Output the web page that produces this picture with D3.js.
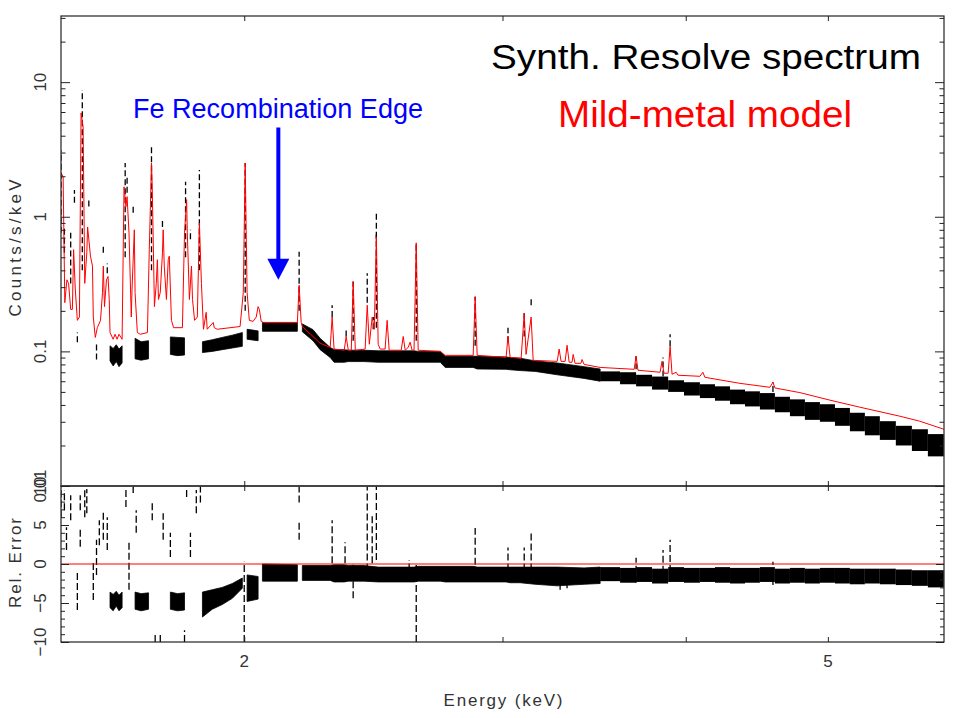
<!DOCTYPE html>
<html lang="en">
<head>
<meta charset="utf-8">
<title>Synth. Resolve spectrum</title>
<script src="https://cdn.jsdelivr.net/npm/d3@7"></script>
<style>
  body { margin: 0; background: #fff; }
  text { font-family: "Liberation Sans", Arial, Helvetica, sans-serif; }
</style>
</head>
<body>
<script>
// ---------- data ----------
// model curve (red), energy in keV and counts/s/keV
var modelE = [1.500,1.505,1.509,1.514,1.518,1.523,1.527,1.530,1.534,1.539,
  1.544,1.548,1.553,1.557,1.562,1.564,1.571,1.576,1.578,1.583,
  1.588,1.596,1.601,1.603,1.606,1.611,1.615,1.618,1.620,1.628,
  1.633,1.638,1.643,1.651,1.656,1.661,1.664,1.669,1.675,1.677,
  1.683,1.685,1.691,1.699,1.718,1.723,1.729,1.731,1.737,1.742,
  1.745,1.748,1.753,1.759,1.761,1.764,1.770,1.775,1.778,1.784,
  1.790,1.815,1.821,1.827,1.829,1.835,1.841,1.844,1.850,1.858,
  1.864,1.870,1.876,1.884,1.887,1.905,1.908,1.917,1.987,1.997,
  2.003,2.009,2.016,2.028,2.038,2.044,2.048,2.054,2.061,2.174,
  2.180,2.187,2.191,2.228,2.253,2.289,2.296,2.303,2.340,2.347,
  2.355,2.366,2.373,2.381,2.418,2.426,2.434,2.445,2.453,2.461,
  2.468,2.476,2.495,2.503,2.511,2.559,2.567,2.575,2.587,2.595,
  2.603,2.611,2.620,2.628,2.721,2.742,2.865,2.874,2.883,3.017,
  3.026,3.036,3.089,3.104,3.113,3.123,3.138,3.148,3.269,3.279,
  3.289,3.310,3.320,3.331,3.346,3.352,3.362,3.393,3.399,3.410,
  3.497,3.689,3.700,3.711,3.842,3.854,3.866,3.891,3.903,3.915,
  3.940,3.952,4.090,4.109,4.122,4.355,4.565,4.587,4.601,4.770,
  4.785,5.017,5.257,5.598,5.776,5.998];
var modelF = [2.12,1.98,0.23,0.34,0.32,0.205,0.205,0.57,0.29,0.17,
  0.18,5.89,4.64,0.32,0.54,0.84,0.51,0.43,0.18,0.127,
  0.150,0.17,0.274,0.43,0.215,0.34,0.36,0.243,0.138,0.123,
  0.134,0.123,0.134,0.123,1.67,1.19,1.41,0.76,0.18,0.29,
  0.80,0.274,0.138,0.134,0.138,0.57,2.51,1.67,0.215,0.32,
  0.48,0.243,0.274,0.54,0.80,0.43,0.243,0.48,0.51,0.17,
  0.150,0.150,0.76,1.34,0.76,0.243,0.43,0.243,0.17,0.18,
  0.90,0.32,0.146,0.195,0.146,0.164,0.150,0.146,0.153,0.274,
  2.51,0.274,0.17,0.167,0.18,0.215,0.205,0.167,0.164,0.164,
  0.31,0.164,0.153,0.129,0.115,0.107,0.18,0.104,0.102,0.129,
  0.102,0.102,0.33,0.102,0.104,0.22,0.113,0.18,0.146,0.71,
  0.113,0.104,0.104,0.17,0.102,0.102,0.129,0.102,0.107,0.117,
  0.102,0.102,0.64,0.102,0.100,0.0934,0.0934,0.255,0.0934,0.0903,
  0.129,0.0903,0.0888,0.192,0.095,0.123,0.18,0.0858,0.0843,0.104,
  0.0843,0.0843,0.111,0.083,0.083,0.095,0.0815,0.0815,0.087,0.080,
  0.076,0.0736,0.092,0.0724,0.070,0.0843,0.0688,0.0688,0.109,0.0676,
  0.070,0.0665,0.0653,0.070,0.0642,0.0579,0.0541,0.059,0.0535,0.0497,
  0.0494,0.0434,0.0385,0.033,0.0303,0.0264];

// data continuum band (finely binned part), null = gap at lines
var bandE = [1.620,1.628,1.636,1.643,1.651,1.66,
  1.685,1.701,1.721,1.75,
  1.781,1.801,1.821,1.85,
  1.873,1.902,1.932,1.963,1.994,2.00,
  2.009,2.044,2.05,
  2.058,2.174,2.18,
  2.191,2.228,2.253,2.289,2.303,2.340,2.355,2.414,2.468,2.611,
  2.628,2.721,2.742,2.865,2.883,3.017,3.036,3.084,3.158,3.269,3.410,3.497];
var bandLo = [0.085,0.078,0.084,0.077,0.082,null,
  0.088,0.086,0.088,null,
  0.095,0.093,0.094,null,
  0.098,0.100,0.103,0.106,0.109,null,
  0.123,0.120,null,
  0.141,0.141,null,
  0.140,0.120,0.103,0.090,0.083,0.083,0.084,0.084,0.083,0.083,
  0.083,0.083,0.076,0.076,0.074,0.0736,0.073,0.072,0.071,0.067,0.063,0.060];
var bandHi = [0.110,0.105,0.112,0.104,0.110,null,
  0.125,0.118,0.120,null,
  0.128,0.127,0.126,null,
  0.118,0.122,0.127,0.132,0.138,null,
  0.146,0.142,null,
  0.164,0.164,null,
  0.160,0.145,0.125,0.107,0.103,0.103,0.102,0.102,0.101,0.101,
  0.100,0.100,0.092,0.092,0.092,0.091,0.090,0.089,0.085,0.082,0.077,0.074];
// residuals (rel. error) on the same energies
var resLo = [-5.6,-6.0,-5.4,-6.0,-5.6,null,
  -5.8,-6.0,-5.8,null,
  -5.8,-6.0,-5.9,null,
  -6.8,-5.8,-5.2,-4.4,-3.1,null,
  -4.8,-4.5,null,
  -2.2,-2.2,null,
  -2.1,-2.1,-2.1,-2.1,-2.3,-2.3,-2.2,-2.2,-2.3,-2.3,
  -2.2,-2.2,-2.3,-2.3,-2.3,-2.3,-2.4,-2.4,-2.6,-2.8,-2.6,-2.5];
var resHi = [-3.6,-3.9,-3.5,-4.0,-3.6,null,
  -3.6,-3.8,-3.7,null,
  -3.6,-3.8,-3.7,null,
  -3.6,-3.3,-3.0,-2.5,-1.8,null,
  -1.4,-1.6,null,
  0.0,-0.1,null,
  -0.2,-0.2,-0.2,-0.2,-0.1,-0.1,-0.2,-0.2,-0.4,-0.4,
  -0.3,-0.3,-0.3,-0.3,-0.4,-0.4,-0.4,-0.4,-0.4,-0.4,-0.5,-0.4];

// grouped bins at high energy
var binEdges = [3.497,3.608,3.700,3.794,3.891,3.989,4.090,4.188,4.288,4.390,4.494,
  4.601,4.711,4.823,4.938,5.056,5.176,5.299,5.425,5.563,5.705,5.850,5.998];
var binLo = [0.060,0.057,0.055,0.052,0.050,0.047,0.045,0.043,0.0405,0.039,0.037,
  0.0353,0.033,0.031,0.030,0.028,0.0255,0.0238,0.022,0.020,0.0182,0.0166];
var binHi = [0.071,0.070,0.067,0.065,0.061,0.059,0.057,0.055,0.052,0.0505,0.049,
  0.046,0.044,0.042,0.0405,0.038,0.035,0.033,0.0303,0.028,0.0264,0.0243];
var resBinLo = [-2.2,-2.4,-2.3,-2.5,-2.3,-2.4,-2.3,-2.4,-2.5,-2.4,-2.3,
  -2.5,-2.4,-2.5,-2.4,-2.5,-2.6,-2.5,-2.6,-2.7,-2.8,-3.0];
var resBinHi = [-0.4,-0.5,-0.4,-0.6,-0.4,-0.5,-0.5,-0.4,-0.5,-0.5,-0.4,
  -0.6,-0.5,-0.6,-0.5,-0.5,-0.6,-0.6,-0.6,-0.7,-0.8,-0.8];

// error bars of the data at the emission lines
var barE  = [1.500,1.508,1.523,1.532,1.539,1.551,1.567,1.586,1.603,1.613,
  1.659,1.664,1.680,1.729,1.759,1.824,1.838,1.864,2.180,2.296,
  2.347,2.426,2.449,2.461,2.461,2.620,2.874,3.026,3.104,3.138,
  3.700,3.860,3.903,4.587,2.003,2.373];
var barLo = [0.76,0.54,0.32,1.27,0.117,0.40,1.19,0.087,0.54,0.38,
  0.50,1.51,1.07,0.40,0.84,0.50,0.68,0.40,0.20,0.18,
  0.129,0.23,0.146,0.15,0.68,0.12,0.11,0.117,0.129,0.22,
  0.0736,0.065,0.109,0.05,0.20,0.12];
var barHi = [3.1,0.84,0.76,1.58,0.138,8.73,1.34,0.117,0.60,0.45,
  2.51,1.98,1.19,3.3,0.95,1.82,0.80,2.23,0.55,0.22,
  0.146,0.38,0.18,1.07,0.74,0.62,0.255,0.15,0.192,0.25,
  0.092,0.09,0.134,0.059,2.5,0.33];
var resBarE  = [1.500,1.508,1.513,1.523,1.539,1.546,1.546,1.557,1.562,1.578,
  1.586,1.593,1.603,1.613,1.661,1.669,1.680,1.688,1.731,1.739,
  1.753,1.761,1.781,1.821,1.827,1.838,1.855,1.867,2.000,2.180,
  2.180,2.296,2.343,2.373,2.426,2.445,2.461,2.591,2.620,2.874,
  3.026,3.104,3.138,3.284,3.320,3.700,3.860,3.903,4.587];
var resBarLo = [6.0,6.9,1.8,5.6,-5.9,6.9,2.2,6.0,6.5,-4.6,
  -1.4,2.4,3.1,1.8,7.3,-3.3,9.1,4.0,5.6,-10,
  -10,3.1,0.9,-10,8.6,0.9,6.5,7.9,-10,7.9,
  3.1,0.1,0.1,-4.4,-2.1,0.1,0.5,-2.1,-10,-0.1,
  -2.1,-2.1,-2.1,-3.3,-3.1,-2.4,-2.4,-2.3,-2.7];
var resBarHi = [9.9,9.5,4.7,8.8,-0.8,8.8,4.4,9.5,9.6,0.5,
  3.1,5.6,6.7,6.0,9.9,3.1,9.9,6.9,7.8,-8.8,
  -9.1,6.5,4.0,-8.5,9.9,4.0,9.5,9.9,0.3,9.9,
  5.3,5.6,2.8,-0.1,9.9,6.5,9.9,0.5,-0.1,4.6,
  2.1,2.1,4.1,-2.1,-2.1,0.8,1.8,3.1,0.3];

// ticks
var xTicks = [2, 3, 4, 5];
var xLabels = [2, 5];
var yMajor = [0.01, 0.1, 1, 10];
var yMinor = [0.02,0.03,0.04,0.05,0.06,0.07,0.08,0.09,
  0.2,0.3,0.4,0.5,0.6,0.7,0.8,0.9, 2,3,4,5,6,7,8,9, 20,30];
var yLabels = ["0.01", "0.1", "1", "10"];
var rMajor = [-10, -5, 0, 5, 10];
var rMinor = [-9,-8,-7,-6,-4,-3,-2,-1,1,2,3,4,6,7,8,9];
var rLabels = ["\u221210", "\u22125", "0", "5", "10"];

// annotation
var edgeE = 2.11, arrowFrom = 4.6, arrowTo = 0.34;

// ---------- layout ----------
var w = 958, h = 718;
var left = 61, right = 944, topY = 16, mid = 486, bottom = 642;

var x = d3.scaleLog().domain([1.5, 6.0]).range([left, right]);
var y = d3.scaleLog().domain([0.01, 31]).range([mid, topY]);
var yr = d3.scaleLinear().domain([-10, 10]).range([bottom, mid]);

var svg = d3.select("body").append("svg")
    .attr("width", w).attr("height", h);

var defs = svg.append("defs");
defs.append("clipPath").attr("id", "clipTop").append("rect")
    .attr("x", left).attr("y", topY).attr("width", right - left).attr("height", mid - topY);
defs.append("clipPath").attr("id", "clipRes").append("rect")
    .attr("x", left).attr("y", mid).attr("width", right - left).attr("height", bottom - mid);

var gTop = svg.append("g").attr("clip-path", "url(#clipTop)");
var gRes = svg.append("g").attr("clip-path", "url(#clipRes)");

// top panel: data band
var idx = d3.range(bandE.length);
gTop.append("path")
    .datum(idx)
    .attr("fill", "#000")
    .attr("stroke", "#000")
    .attr("stroke-width", 0.8)
    .attr("d", d3.area()
        .defined(function(i) { return bandLo[i] != null; })
        .x(function(i) { return x(bandE[i]); })
        .y0(function(i) { return y(bandLo[i]); })
        .y1(function(i) { return y(bandHi[i]); }));

gTop.selectAll("rect.bin")
    .data(binLo)
    .enter()
    .append("rect")
    .attr("class", "bin")
    .attr("x", function(d, i) { return x(binEdges[i]); })
    .attr("width", function(d, i) { return x(binEdges[i + 1]) - x(binEdges[i]); })
    .attr("y", function(d, i) { return y(binHi[i]); })
    .attr("height", function(d, i) { return y(binLo[i]) - y(binHi[i]); })
    .attr("fill", "#000");

gTop.selectAll("line.bar")
    .data(barE)
    .enter()
    .append("line")
    .attr("class", "bar")
    .attr("x1", function(d) { return x(d); })
    .attr("x2", function(d) { return x(d); })
    .attr("y1", function(d, i) { return y(barLo[i]); })
    .attr("y2", function(d, i) { return y(barHi[i]); })
    .attr("stroke", "#000")
    .attr("stroke-width", 1.3)
    .attr("stroke-dasharray", "6,3");

// model
gTop.append("path")
    .datum(d3.range(modelE.length))
    .attr("fill", "none")
    .attr("stroke", "#ff0000")
    .attr("stroke-width", 1)
    .attr("d", d3.line()
        .x(function(i) { return x(modelE[i]); })
        .y(function(i) { return y(modelF[i]); }));

// residual panel
gRes.append("path")
    .datum(idx)
    .attr("fill", "#000")
    .attr("stroke", "#000")
    .attr("stroke-width", 0.8)
    .attr("d", d3.area()
        .defined(function(i) { return resLo[i] != null; })
        .x(function(i) { return x(bandE[i]); })
        .y0(function(i) { return yr(resLo[i]); })
        .y1(function(i) { return yr(resHi[i]); }));

gRes.selectAll("rect.rbin")
    .data(resBinLo)
    .enter()
    .append("rect")
    .attr("class", "rbin")
    .attr("x", function(d, i) { return x(binEdges[i]); })
    .attr("width", function(d, i) { return x(binEdges[i + 1]) - x(binEdges[i]); })
    .attr("y", function(d, i) { return yr(resBinHi[i]); })
    .attr("height", function(d, i) { return yr(resBinLo[i]) - yr(resBinHi[i]); })
    .attr("fill", "#000");

gRes.selectAll("line.rbar")
    .data(resBarE)
    .enter()
    .append("line")
    .attr("class", "rbar")
    .attr("x1", function(d) { return x(d); })
    .attr("x2", function(d) { return x(d); })
    .attr("y1", function(d, i) { return yr(resBarLo[i]); })
    .attr("y2", function(d, i) { return yr(resBarHi[i]); })
    .attr("stroke", "#000")
    .attr("stroke-width", 1.3)
    .attr("stroke-dasharray", "7,3");

gRes.append("line")
    .attr("x1", left).attr("x2", right)
    .attr("y1", yr(0)).attr("y2", yr(0))
    .attr("stroke", "#ff0000")
    .attr("stroke-width", 1.2);

// ---------- axes ----------
function ticks(axisFn, scale, vals, size, tx, ty) {
    svg.append("g")
        .attr("transform", "translate(" + tx + "," + ty + ")")
        .attr("color", "#222")
        .call(axisFn(scale).tickValues(vals).tickSize(-size).tickFormat(""))
        .call(function(g) { g.select(".domain").remove(); });
}
ticks(d3.axisTop, x, xTicks, 5, 0, topY);
ticks(d3.axisBottom, x, xTicks, 5, 0, mid);
ticks(d3.axisTop, x, xTicks, 5, 0, mid);
ticks(d3.axisBottom, x, xTicks, 5, 0, bottom);
ticks(d3.axisLeft, y, yMajor, 9, left, 0);
ticks(d3.axisLeft, y, yMinor, 4.5, left, 0);
ticks(d3.axisRight, y, yMajor, 9, right, 0);
ticks(d3.axisRight, y, yMinor, 4.5, right, 0);
ticks(d3.axisLeft, yr, rMajor, 8, left, 0);
ticks(d3.axisLeft, yr, rMinor, 4, left, 0);
ticks(d3.axisRight, yr, rMajor, 8, right, 0);
ticks(d3.axisRight, yr, rMinor, 4, right, 0);

svg.append("rect")
    .attr("x", left).attr("y", topY).attr("width", right - left).attr("height", mid - topY)
    .attr("fill", "none").attr("stroke", "#222").attr("stroke-width", 1.2);
svg.append("rect")
    .attr("x", left).attr("y", mid).attr("width", right - left).attr("height", bottom - mid)
    .attr("fill", "none").attr("stroke", "#222").attr("stroke-width", 1.2);

var labelStyle = function(sel) {
    sel.attr("font-size", "17px").attr("fill", "#333").attr("text-anchor", "middle");
};

svg.selectAll("text.xl")
    .data(xLabels)
    .enter()
    .append("text")
    .attr("class", "xl")
    .attr("x", function(d) { return x(d); })
    .attr("y", 667)
    .text(function(d) { return d; })
    .call(labelStyle);

svg.selectAll("text.yl")
    .data(yMajor)
    .enter()
    .append("text")
    .attr("class", "yl")
    .attr("transform", function(d) { return "translate(46," + y(d) + ") rotate(-90)"; })
    .text(function(d, i) { return yLabels[i]; })
    .call(labelStyle);

svg.selectAll("text.rl")
    .data(rMajor)
    .enter()
    .append("text")
    .attr("class", "rl")
    .attr("transform", function(d) { return "translate(46," + yr(d) + ") rotate(-90)"; })
    .text(function(d, i) { return rLabels[i]; })
    .call(labelStyle);

svg.append("text")
    .attr("transform", "translate(21,248) rotate(-90)")
    .attr("textLength", 137).attr("lengthAdjust", "spacing")
    .text("Counts/s/keV")
    .call(labelStyle);
svg.append("text")
    .attr("transform", "translate(21,563) rotate(-90)")
    .attr("textLength", 90).attr("lengthAdjust", "spacing")
    .text("Rel. Error")
    .call(labelStyle);
svg.append("text")
    .attr("x", 503).attr("y", 706)
    .attr("textLength", 119).attr("lengthAdjust", "spacing")
    .text("Energy (keV)")
    .call(labelStyle);

// ---------- annotations ----------
svg.append("text")
    .attr("x", 491).attr("y", 69)
    .attr("font-size", "35px")
    .attr("textLength", 430).attr("lengthAdjust", "spacingAndGlyphs")
    .attr("fill", "#000")
    .text("Synth. Resolve spectrum");
svg.append("text")
    .attr("x", 558).attr("y", 127)
    .attr("font-size", "36px")
    .attr("textLength", 294).attr("lengthAdjust", "spacingAndGlyphs")
    .attr("fill", "#ff0000")
    .text("Mild-metal model");
svg.append("text")
    .attr("x", 133).attr("y", 118)
    .attr("font-size", "27px")
    .attr("textLength", 290).attr("lengthAdjust", "spacingAndGlyphs")
    .attr("fill", "#0000ff")
    .text("Fe Recombination Edge");

var ax = x(edgeE), ay0 = y(arrowFrom), ay1 = y(arrowTo);
svg.append("line")
    .attr("x1", ax).attr("x2", ax)
    .attr("y1", ay0).attr("y2", ay1 - 20)
    .attr("stroke", "#0000ff")
    .attr("stroke-width", 4);
svg.append("path")
    .attr("d", "M" + (ax - 11) + "," + (ay1 - 21) + "L" + (ax + 11) + "," + (ay1 - 21) + "L" + ax + "," + ay1 + "Z")
    .attr("fill", "#0000ff");
</script>
</body>
</html>
